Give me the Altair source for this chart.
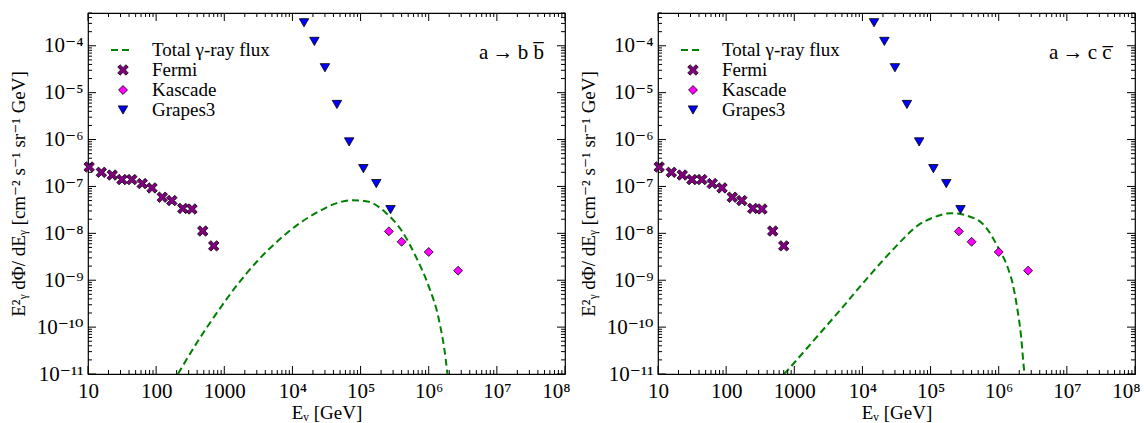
import altair as alt
import pandas as pd

# ---------------- data ----------------
fermi_E = [10.4, 15.7, 22.7, 31.5, 44, 62.5, 87, 123, 170, 246, 336, 483, 700]
fermi_flux = [2.6e-7, 2.0e-7, 1.75e-7, 1.4e-7, 1.4e-7, 1.15e-7, 9.3e-8,
              5.9e-8, 5.0e-8, 3.4e-8, 3.3e-8, 1.12e-8, 5.4e-9]

kascade_E = [2.6e5, 4.0e5, 1.0e6, 2.7e6]
kascade_flux = [1.1e-8, 6.6e-9, 4.0e-9, 1.6e-9]

grapes_E = [1.48e4, 2.1e4, 3.0e4, 4.5e4, 6.8e4, 1.1e5, 1.7e5, 2.75e5]
grapes_flux = [3.1e-4, 1.24e-4, 3.4e-5, 5.6e-6, 8.9e-7, 2.4e-7, 1.15e-7, 3.2e-8]

bb_E = [209, 398, 794, 1585, 3162, 6310, 1.26e4, 2.51e4, 4.47e4, 7.59e4, 1.32e5,
        2.34e5, 4.07e5, 6.46e5, 1.0e6, 1.41e6, 1.78e6, 1.88e6]
bb_flux = [1.0e-11, 4.7e-11, 2.1e-10, 8.3e-10, 2.7e-9, 7.2e-9, 1.62e-8, 3.0e-8,
           4.4e-8, 5.1e-8, 4.7e-8, 2.75e-8, 1.1e-8, 3.2e-9, 7.4e-10, 1.45e-10,
           2.0e-11, 1.0e-11]

cc_E = [708, 774, 2018, 4943, 1.216e4, 3.16e4, 6.53e4, 1.15e5, 2.0e5, 3.55e5,
        6.31e5, 1.0e6, 1.365e6, 1.62e6, 1.82e6, 2.14e6, 2.34e6, 2.4e6]
cc_flux = [1.0e-11, 1.15e-11, 5.6e-11, 2.5e-10, 1.17e-9, 5.4e-9, 1.48e-8, 2.24e-8,
           2.69e-8, 2.34e-8, 1.41e-8, 4.7e-9, 1.82e-9, 7.9e-10, 3.2e-10, 5.9e-11,
           1.35e-11, 1.0e-11]

x_major = [10, 100, 1000, 1e4, 1e5, 1e6, 1e7, 1e8]
x_labels = ["10", "100", "1000", "10⁴", "10⁵", "10⁶", "10⁷", "10⁸"]
y_major = [1e-11, 1e-10, 1e-9, 1e-8, 1e-7, 1e-6, 1e-5, 1e-4]
y_labels = ["10⁻¹¹", "10⁻¹⁰", "10⁻⁹", "10⁻⁸", "10⁻⁷", "10⁻⁶", "10⁻⁵", "10⁻⁴"]
x_domain = [10, 1e8]
y_domain = [1e-11, 5e-4]

legend_names = ["Total γ-ray flux", "Fermi", "Kascade", "Grapes3"]
panel_labels = ["a\u2009→\u2009b b\u0305", "a\u2009→\u2009c c\u0305"]

# ---------------- style ----------------
W, H = 477, 361
FONT = "Liberation Serif, DejaVu Serif, serif"
GREEN = "#008000"
PURPLE = "#800080"
MAGENTA = "#ff00ff"
BLUE = "#0000ff"
XSHAPE = ("M-1,-0.55L-0.55,-1L0,-0.45L0.55,-1L1,-0.55L0.45,0L1,0.55L0.55,1"
          "L0,0.45L-0.55,1L-1,0.55L-0.45,0Z")

xs = alt.Scale(type="log", domain=x_domain, nice=False)
ys = alt.Scale(type="log", domain=y_domain, nice=False)


def js_list(vals):
    return "[" + ",".join("'" + v + "'" for v in vals) + "]"


xaxis = alt.Axis(values=x_major, labelExpr=js_list(x_labels) + "[round(log(datum.value)/LN10)-1]",
                 ticks=False, grid=False, domain=False, labelFont=FONT, labelFontSize=21,
                 labelColor="black", labelPadding=6, labelFlush=False, labelOverlap=False,
                 labelAlign={"condition": {"test": "datum.value >= 1e8", "value": "right"},
                             "value": "center"},
                 labelOffset={"condition": {"test": "datum.value >= 1e8", "value": 5},
                              "value": 0},
                 title="Eᵥ [GeV]", titleFont=FONT, titleFontSize=19, titleFontWeight="normal",
                 titleColor="black", titlePadding=2)
yaxis = alt.Axis(values=y_major, labelExpr=js_list(y_labels) + "[round(log(datum.value)/LN10)+11]",
                 ticks=False, grid=False, domain=False, labelFont=FONT, labelFontSize=21,
                 labelColor="black", labelPadding=5, labelFlush=False, labelOverlap=False,
                 title="E²ᵧ dΦ/ dEᵧ  [cm⁻² s⁻¹ sr⁻¹ GeV]", titleFont=FONT, titleFontSize=19,
                 titleFontWeight="normal", titleColor="black", titlePadding=8)


def X(field="E"):
    return alt.X(f"{field}:Q", scale=xs, axis=xaxis)


def Y(field="flux"):
    return alt.Y(f"{field}:Q", scale=ys, axis=yaxis)


# tick positions (major + minor on log axes)
x_minor = [m * 10 ** d for d in range(1, 8) for m in range(2, 10)]
y_minor = [m * 10.0 ** d for d in range(-11, -3) for m in range(2, 10) if m * 10.0 ** d <= 5e-4]


def tick_layers():
    layers = []
    for vals, ln in ((x_major, 8), (x_minor, 4)):
        df = pd.DataFrame({"E": vals})
        layers.append(alt.Chart(df).mark_rule(color="black", strokeWidth=1).encode(
            x=X(), y=alt.value(H), y2=alt.value(H - ln)))
        layers.append(alt.Chart(df).mark_rule(color="black", strokeWidth=1).encode(
            x=X(), y=alt.value(0), y2=alt.value(ln)))
    for vals, ln in ((y_major, 8), (y_minor, 4)):
        df = pd.DataFrame({"flux": vals})
        layers.append(alt.Chart(df).mark_rule(color="black", strokeWidth=1).encode(
            y=Y(), x=alt.value(0), x2=alt.value(ln)))
        layers.append(alt.Chart(df).mark_rule(color="black", strokeWidth=1).encode(
            y=Y(), x=alt.value(W), x2=alt.value(W - ln)))
    return layers


def legend_layers():
    layers = []
    rows = [37, 57, 77, 97]
    layers.append(alt.Chart(pd.DataFrame({"a": [0]})).mark_rule(
        color=GREEN, strokeWidth=2, strokeDash=[7, 4]).encode(
        x=alt.value(23), x2=alt.value(45), y=alt.value(rows[0])))
    marks = [(XSHAPE, PURPLE, 110), ("diamond", MAGENTA, 80), ("triangle-down", BLUE, 90)]
    for (shp, col, sz), yy in zip(marks, rows[1:]):
        layers.append(alt.Chart(pd.DataFrame({"a": [0]})).mark_point(
            shape=shp, filled=True, fill=col, stroke="black", strokeWidth=0.8,
            size=sz, opacity=1).encode(x=alt.value(35), y=alt.value(yy)))
    for name, yy in zip(legend_names, rows):
        layers.append(alt.Chart(pd.DataFrame({"t": [name]})).mark_text(
            align="left", baseline="middle", font=FONT, fontSize=19, color="black").encode(
            x=alt.value(64), y=alt.value(yy), text="t:N"))
    return layers


def panel(curve_E, curve_flux, label):
    curve = alt.Chart(pd.DataFrame({"E": curve_E, "flux": curve_flux})).mark_line(
        color=GREEN, strokeWidth=2, strokeDash=[7, 4], clip=True, interpolate="monotone").encode(
        x=X(), y=Y())
    fermi = alt.Chart(pd.DataFrame({"E": fermi_E, "flux": fermi_flux})).mark_point(
        shape=XSHAPE, filled=True, fill=PURPLE, stroke="black", strokeWidth=0.8,
        size=110, opacity=1).encode(x=X(), y=Y())
    kascade = alt.Chart(pd.DataFrame({"E": kascade_E, "flux": kascade_flux})).mark_point(
        shape="diamond", filled=True, fill=MAGENTA, stroke="black", strokeWidth=0.8,
        size=80, opacity=1).encode(x=X(), y=Y())
    grapes = alt.Chart(pd.DataFrame({"E": grapes_E, "flux": grapes_flux})).mark_point(
        shape="triangle-down", filled=True, fill=BLUE, stroke="black", strokeWidth=0.8,
        size=90, opacity=1).encode(x=X(), y=Y())
    lab = alt.Chart(pd.DataFrame({"t": [label]})).mark_text(
        align="left", baseline="middle", font=FONT, fontSize=21, color="black").encode(
        x=alt.value(391), y=alt.value(40), text="t:N")
    return alt.layer(curve, fermi, kascade, grapes, lab, *tick_layers(), *legend_layers()).properties(
        width=W, height=H)


chart = alt.hconcat(
    panel(bb_E, bb_flux, panel_labels[0]),
    panel(cc_E, cc_flux, panel_labels[1]),
    spacing=93,
    bounds="flush",
).properties(
    padding={"left": 8, "top": 11, "right": 0, "bottom": 0},
    background="white",
).configure_view(stroke="black", strokeWidth=1.2)

chart.save("out.html", embed_options={"renderer": "svg", "actions": False})
